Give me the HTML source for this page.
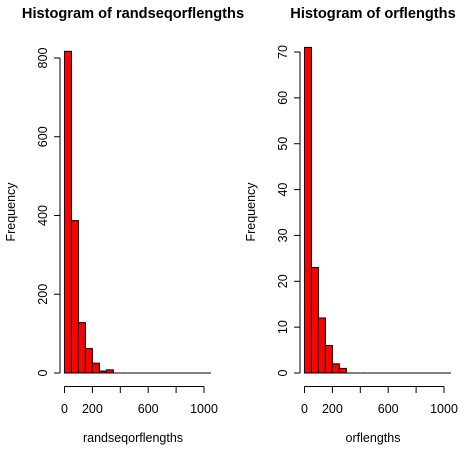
<!DOCTYPE html>
<html><head><meta charset="utf-8"><style>
body{margin:0;background:#fff}
svg text{font-family:"Liberation Sans",sans-serif;fill:#000}
</style></head><body>
<svg id="c" width="469" height="453" xmlns="http://www.w3.org/2000/svg"></svg>
<script>
const binStarts=[0,50,100,150,200,250,300,350,400,450,500,550,600,650,700,750,800,850,900,950,1000];
const leftCounts=[817,387,128,62,25,5,8,0,0,0,0,0,0,0,0,0,0,0,0,0,0];
const rightCounts=[71,23,12,6,2,1,0,0,0,0,0,0,0,0,0,0,0,0,0,0,0];
const xTicks=[0,200,400,600,800,1000];
const xTickLabels=["0","200","","600","","1000"];
const leftYTicks=[0,200,400,600,800];
const rightYTicks=[0,10,20,30,40,50,60,70];
const binWidth=50;
const svg=document.getElementById('c');
const NS='http://www.w3.org/2000/svg';
function mk(t,a,parent){const e=document.createElementNS(NS,t);for(const k in a)e.setAttribute(k,a[k]);(parent||svg).appendChild(e);return e;}
function panel(ox,title,xlab,counts,yTicks,yTop,yMax,nm){
  const g=mk('g',{});
  
  
  const x=v=>ox+64.5+v*(139.5/1000);
  const y=v=>373-v*((373-yTop)/yMax);
  counts.forEach((c,i)=>{
    const x0=x(binStarts[i]),x1=x(binStarts[i]+binWidth);
    if(c>0){
      const r=mk('rect',{x:x0,y:y(c),width:x1-x0,height:373-y(c),fill:'#ff0000',stroke:'#000','stroke-width':1},g);
      
      
    } else {
      const r=mk('line',{x1:x0,x2:x1,y1:373,y2:373,stroke:'#000','stroke-width':1},g);
      
      
    }
  });
  const ya=mk('g',{},g);
  
  
  mk('line',{x1:ox+60,x2:ox+60,y1:y(yTicks[0]),y2:y(yTicks[yTicks.length-1]),stroke:'#000'},ya);
  yTicks.forEach(t=>{
    mk('line',{x1:ox+54,x2:ox+60,y1:y(t),y2:y(t),stroke:'#000'},ya);
    const tx=mk('text',{x:ox+47,y:y(t),'font-size':12.5,'text-anchor':'middle',transform:`rotate(-90 ${ox+47} ${y(t)})`},ya);
    tx.textContent=t;
  });
  const xa=mk('g',{},g);
  
  
  mk('line',{x1:x(0),x2:x(1000),y1:386.5,y2:386.5,stroke:'#000'},xa);
  xTicks.forEach((t,i)=>{
    mk('line',{x1:x(t),x2:x(t),y1:386.5,y2:393,stroke:'#000'},xa);
    const tx=mk('text',{x:x(t),y:413,'font-size':12.5,'text-anchor':'middle'},xa);
    tx.textContent=xTickLabels[i];
  });
  const tt=mk('text',{x:ox+133,y:18,'font-size':14.6,'font-weight':'bold','text-anchor':'middle'},g);
  tt.textContent=title;
  
  
  const xl=mk('text',{x:ox+133,y:442,'font-size':12.5,'text-anchor':'middle'},g);
  xl.textContent=xlab;
  
  
  const yl=mk('text',{x:ox+15,y:212,'font-size':12.5,'text-anchor':'middle',transform:`rotate(-90 ${ox+15} 212)`},g);
  yl.textContent='Frequency';
  
  
}
panel(0,'Histogram of randseqorflengths','randseqorflengths',leftCounts,leftYTicks,58,800,'left-histogram');
panel(240,'Histogram of orflengths','orflengths',rightCounts,rightYTicks,52,70,'right-histogram');
</script>
</body></html>
